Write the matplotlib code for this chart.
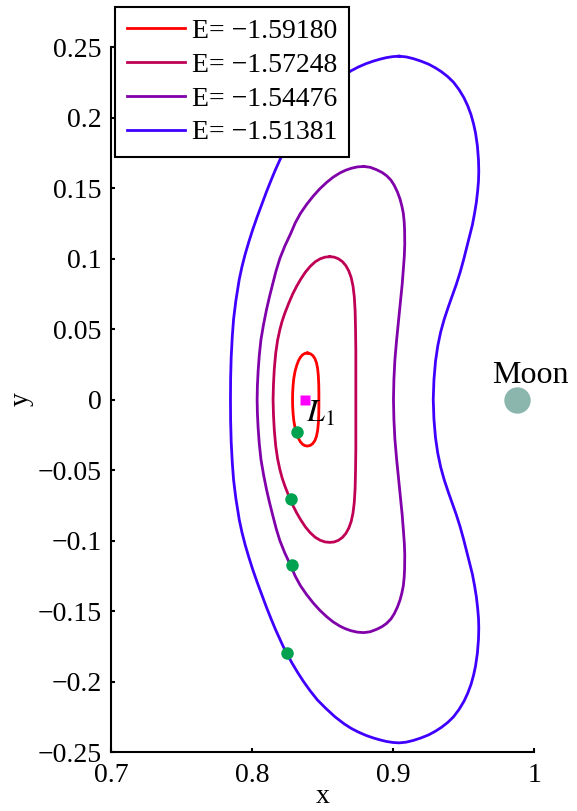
import numpy as np
import matplotlib
matplotlib.use('Agg')
import matplotlib.pyplot as plt

plt.rcParams['font.family'] = ['Liberation Serif', 'DejaVu Serif']
plt.rcParams['mathtext.fontset'] = 'stix'

# Lyapunov orbits around L1.
# "right" runs from the top point down to the bottom point,
# "left" runs from just after the bottom point back up to the top.
o1_right_x = [0.8390, 0.8410, 0.8428, 0.8443, 0.8454, 0.8462, 0.8467, 0.8470, 0.8471, 0.8471,
              0.8471, 0.8470, 0.8467, 0.8462, 0.8454, 0.8443, 0.8428, 0.8410, 0.8390]
o1_right_y = [0.0330, 0.0325, 0.0312, 0.0290, 0.0260, 0.0220, 0.0170, 0.0110, 0.0050, 0.0000,
              -0.0050, -0.0110, -0.0170, -0.0220, -0.0260, -0.0290, -0.0312, -0.0325, -0.0330]
o1_left_x = [0.8372, 0.8355, 0.8340, 0.8326, 0.8313, 0.8302, 0.8293, 0.8288, 0.8285, 0.8284,
             0.8285, 0.8288, 0.8293, 0.8302, 0.8313, 0.8326, 0.8340, 0.8355, 0.8372, 0.8390]
o1_left_y = [-0.0327, -0.0317, -0.0300, -0.0275, -0.0240, -0.0200, -0.0150, -0.0100, -0.0050, 0.0000,
             0.0050, 0.0100, 0.0150, 0.0200, 0.0240, 0.0275, 0.0300, 0.0317, 0.0327, 0.0330]

o2_right_x = [0.8549, 0.8580, 0.8610, 0.8638, 0.8662, 0.8683, 0.8700, 0.8713, 0.8722, 0.8728,
              0.8731, 0.8733, 0.8733, 0.8733, 0.8733, 0.8733, 0.8731, 0.8728, 0.8722, 0.8713,
              0.8700, 0.8683, 0.8662, 0.8638, 0.8610, 0.8580, 0.8549]
o2_right_y = [0.1013, 0.1010, 0.0998, 0.0978, 0.0950, 0.0912, 0.0865, 0.0805, 0.0730, 0.0630,
              0.0500, 0.0350, 0.0180, 0.0000, -0.0180, -0.0350, -0.0500, -0.0630, -0.0730, -0.0805,
              -0.0865, -0.0912, -0.0950, -0.0978, -0.0998, -0.1010, -0.1013]
o2_left_x = [0.8515, 0.8480, 0.8445, 0.8410, 0.8375, 0.8342, 0.8313, 0.8285, 0.8258, 0.8230,
             0.8210, 0.8194, 0.8178, 0.8165, 0.8155, 0.8149, 0.8146, 0.8149, 0.8155, 0.8165,
             0.8178, 0.8194, 0.8210, 0.8230, 0.8258, 0.8285, 0.8313, 0.8342, 0.8375, 0.8410,
             0.8445, 0.8480, 0.8515, 0.8549]
o2_left_y = [-0.1010, -0.0998, -0.0977, -0.0945, -0.0903, -0.0853, -0.0803, -0.0748, -0.0685, -0.0614,
             -0.0555, -0.0495, -0.0420, -0.0330, -0.0220, -0.0110, 0.0000, 0.0110, 0.0220, 0.0330,
             0.0420, 0.0495, 0.0555, 0.0614, 0.0685, 0.0748, 0.0803, 0.0853, 0.0903, 0.0945,
             0.0977, 0.0998, 0.1010, 0.1013]

o3_right_x = [0.8790, 0.8835, 0.8880, 0.8920, 0.8952, 0.8982, 0.9005, 0.9028, 0.9047, 0.9060,
              0.9070, 0.9076, 0.9079, 0.9080, 0.9077, 0.9072, 0.9062, 0.9050, 0.9036, 0.9022,
              0.9010, 0.9003, 0.9000, 0.9003, 0.9010, 0.9022, 0.9036, 0.9050, 0.9062, 0.9072,
              0.9077, 0.9080, 0.9079, 0.9076, 0.9070, 0.9060, 0.9047, 0.9028, 0.9005, 0.8982,
              0.8952, 0.8920, 0.8880, 0.8835, 0.8790]
o3_right_y = [0.1653, 0.1647, 0.1630, 0.1610, 0.1587, 0.1556, 0.1520, 0.1472, 0.1420, 0.1370,
              0.1320, 0.1260, 0.1200, 0.1100, 0.1020, 0.0950, 0.0820, 0.0700, 0.0560, 0.0420,
              0.0280, 0.0140, 0.0000, -0.0140, -0.0280, -0.0420, -0.0560, -0.0700, -0.0820, -0.0950,
              -0.1020, -0.1100, -0.1200, -0.1260, -0.1320, -0.1370, -0.1420, -0.1472, -0.1520, -0.1556,
              -0.1587, -0.1610, -0.1630, -0.1647, -0.1653]
o3_left_x = [0.8745, 0.8700, 0.8660, 0.8620, 0.8572, 0.8526, 0.8478, 0.8431, 0.8385, 0.8340,
             0.8303, 0.8270, 0.8230, 0.8194, 0.8168, 0.8146, 0.8122, 0.8100, 0.8078, 0.8060,
             0.8048, 0.8040, 0.8035, 0.8033, 0.8035, 0.8040, 0.8048, 0.8060, 0.8078, 0.8100,
             0.8122, 0.8146, 0.8168, 0.8194, 0.8230, 0.8270, 0.8303, 0.8340, 0.8385, 0.8431,
             0.8478, 0.8526, 0.8572, 0.8620, 0.8660, 0.8700, 0.8745, 0.8790]
o3_left_y = [-0.1650, -0.1640, -0.1626, -0.1607, -0.1577, -0.1540, -0.1495, -0.1443, -0.1385, -0.1320,
             -0.1252, -0.1175, -0.1090, -0.1000, -0.0915, -0.0830, -0.0735, -0.0640, -0.0530, -0.0424,
             -0.0310, -0.0200, -0.0100, 0.0000, 0.0100, 0.0200, 0.0310, 0.0424, 0.0530, 0.0640,
             0.0735, 0.0830, 0.0915, 0.1000, 0.1090, 0.1175, 0.1252, 0.1320, 0.1385, 0.1443,
             0.1495, 0.1540, 0.1577, 0.1607, 0.1626, 0.1640, 0.1650, 0.1653]

o4_right_x = [0.9040, 0.9090, 0.9140, 0.9195, 0.9250, 0.9298, 0.9340, 0.9385, 0.9426, 0.9465,
              0.9500, 0.9527, 0.9550, 0.9568, 0.9582, 0.9595, 0.9603, 0.9605, 0.9603, 0.9597,
              0.9588, 0.9575, 0.9560, 0.9540, 0.9520, 0.9497, 0.9472, 0.9445, 0.9418, 0.9390,
              0.9360, 0.9335, 0.9314, 0.9298, 0.9287, 0.9282,
              0.9287, 0.9298, 0.9314, 0.9335, 0.9360, 0.9390, 0.9418, 0.9445, 0.9472, 0.9497,
              0.9520, 0.9540, 0.9560, 0.9575, 0.9588, 0.9597, 0.9603, 0.9605, 0.9603, 0.9595,
              0.9582, 0.9568, 0.9550, 0.9527, 0.9500, 0.9465, 0.9426, 0.9385, 0.9340, 0.9298,
              0.9250, 0.9195, 0.9140, 0.9090, 0.9040]
o4_right_y = [0.2435, 0.2430, 0.2418, 0.2400, 0.2378, 0.2352, 0.2325, 0.2290, 0.2250, 0.2198,
              0.2140, 0.2082, 0.2020, 0.1955, 0.1890, 0.1800, 0.1700, 0.1620, 0.1550, 0.1480,
              0.1400, 0.1320, 0.1240, 0.1160, 0.1080, 0.0990, 0.0900, 0.0815, 0.0740, 0.0660,
              0.0570, 0.0480, 0.0380, 0.0270, 0.0140, 0.0000,
              -0.0140, -0.0270, -0.0380, -0.0480, -0.0570, -0.0660, -0.0740, -0.0815, -0.0900, -0.0990,
              -0.1080, -0.1160, -0.1240, -0.1320, -0.1400, -0.1480, -0.1550, -0.1620, -0.1700, -0.1800,
              -0.1890, -0.1955, -0.2020, -0.2082, -0.2140, -0.2198, -0.2250, -0.2290, -0.2325, -0.2352,
              -0.2378, -0.2400, -0.2418, -0.2430, -0.2435]
o4_left_x = [0.8995, 0.8950, 0.8905, 0.8857, 0.8805, 0.8750, 0.8700, 0.8650, 0.8585, 0.8520,
             0.8460, 0.8407, 0.8362, 0.8320, 0.8280, 0.8242, 0.8215, 0.8190, 0.8162, 0.8135,
             0.8101, 0.8068, 0.8034, 0.8002, 0.7974, 0.7948, 0.7925, 0.7906, 0.7882, 0.7866,
             0.7857, 0.7849, 0.7845, 0.7844,
             0.7845, 0.7849, 0.7857, 0.7866, 0.7882, 0.7906, 0.7925, 0.7948, 0.7974, 0.8002,
             0.8034, 0.8068, 0.8101, 0.8135, 0.8162, 0.8190, 0.8215, 0.8242, 0.8280, 0.8320,
             0.8362, 0.8407, 0.8460, 0.8520, 0.8585, 0.8650, 0.8700, 0.8750, 0.8805, 0.8857,
             0.8905, 0.8950, 0.8995, 0.9040]
o4_left_y = [-0.2432, -0.2425, -0.2414, -0.2400, -0.2382, -0.2358, -0.2332, -0.2300, -0.2250, -0.2190,
             -0.2130, -0.2063, -0.2000, -0.1935, -0.1868, -0.1798, -0.1745, -0.1690, -0.1628, -0.1563,
             -0.1478, -0.1390, -0.1298, -0.1206, -0.1118, -0.1030, -0.0940, -0.0851, -0.0700, -0.0570,
             -0.0450, -0.0300, -0.0150, 0.0000,
             0.0150, 0.0300, 0.0450, 0.0570, 0.0700, 0.0851, 0.0940, 0.1030, 0.1118, 0.1206,
             0.1298, 0.1390, 0.1478, 0.1563, 0.1628, 0.1690, 0.1745, 0.1798, 0.1868, 0.1935,
             0.2000, 0.2063, 0.2130, 0.2190, 0.2250, 0.2300, 0.2332, 0.2358, 0.2382, 0.2400,
             0.2414, 0.2425, 0.2432, 0.2435]

orbits_x = [o1_right_x + o1_left_x, o2_right_x + o2_left_x,
            o3_right_x + o3_left_x, o4_right_x + o4_left_x]
orbits_y = [o1_right_y + o1_left_y, o2_right_y + o2_left_y,
            o3_right_y + o3_left_y, o4_right_y + o4_left_y]
energies = ['\u22121.59180', '\u22121.57248', '\u22121.54476', '\u22121.51381']
colors = ['#FF0000', '#C00055', '#8000AA', '#4000FF']

# starting points of the manifolds (green dots)
dots_x = [0.8313, 0.8272, 0.8277, 0.8242]
dots_y = [-0.0227, -0.0708, -0.1175, -0.1798]

L1 = (0.8369, 0.0)
moon = (0.9878, 0.0)

xticks = [0.7, 0.8, 0.9, 1.0]
xticklabels = ['0.7', '0.8', '0.9', '1']
yticks = [-0.25, -0.2, -0.15, -0.1, -0.05, 0, 0.05, 0.1, 0.15, 0.2, 0.25]
yticklabels = ['\u22120.25', '\u22120.2', '\u22120.15', '\u22120.1', '\u22120.05', '0',
               '0.05', '0.1', '0.15', '0.2', '0.25']

fig = plt.figure(figsize=(5.77, 8.11), dpi=100)
ax = fig.add_axes([0.1932, 0.0727, 0.7331, 0.8693])

for i in range(4):
    ax.plot(orbits_x[i], orbits_y[i], color=colors[i], lw=2, label='E= ' + energies[i],
            solid_joinstyle='round')

ax.plot(dots_x, dots_y, 'o', color='#00A14F', ms=9, mec='none')
ax.plot(L1[0], L1[1], 's', color='#FF00FF', ms=7.5, mec='none')
ax.plot(moon[0], moon[1], 'o', color='#8AB6AD', ms=19, mec='none', clip_on=False)
ax.text(0.8381, -0.0105, '$L_1$', fontsize=23, ha='left', va='center')
ax.text(0.9968, 0.0118, 'Moon', fontsize=23, ha='center', va='baseline')

ax.set_xlim(0.7, 1.0)
ax.set_ylim(-0.25, 0.25)
ax.set_xticks(xticks)
ax.set_xticklabels(xticklabels)
ax.set_yticks(yticks)
ax.set_yticklabels(yticklabels)
ax.tick_params(direction='in', length=3, width=1.5, labelsize=20, pad=8)
ax.tick_params(axis='y', pad=7)
for s in ['top', 'right']:
    ax.spines[s].set_visible(False)
for s in ['left', 'bottom']:
    ax.spines[s].set_linewidth(1.5)
ax.set_xlabel('x', fontsize=20, labelpad=-3)
ax.set_ylabel('y', fontsize=20, labelpad=3)

leg = ax.legend(loc='upper left', bbox_to_anchor=(115/577, 1 - 7/811),
                bbox_transform=fig.transFigure, borderaxespad=0, fancybox=False,
                edgecolor='k', framealpha=1, fontsize=20, handlelength=2.1,
                handletextpad=0.25, labelspacing=0.3, borderpad=0.42)
leg.get_frame().set_linewidth(1.5)

fig.savefig('out.png', dpi=100)
